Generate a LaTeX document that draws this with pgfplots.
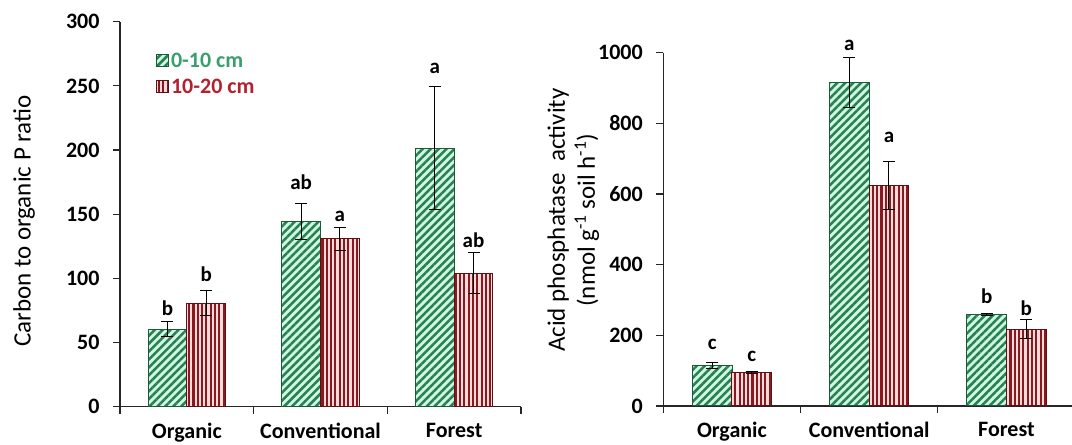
\documentclass[border=0pt]{standalone}
\usepackage{fontspec}
\setmainfont{Carlito}
\usepackage{pgfplots}
\pgfplotsset{compat=1.18}
\usetikzlibrary{patterns.meta}

% bar colours
\definecolor{mintfill}{HTML}{CDF7E1}
\definecolor{mintline}{HTML}{2A7F52}
\definecolor{mintedge}{HTML}{1E5A3A}
\definecolor{pinkfill}{HTML}{FCDADA}
\definecolor{pinkline}{HTML}{861A20}
\definecolor{pinkedge}{HTML}{5E1014}
\definecolor{legendgreen}{HTML}{3A9F6C}
\definecolor{legendred}{HTML}{B3202F}

% data: x position, value, standard error
\pgfplotstableread{
x     y      e
0.855 60.5   6
1.855 144.3  14.3
2.855 201.5  48
}\ratioTop
\pgfplotstableread{
x     y      e
1.145 80.7   10
2.145 130.8  9
3.145 104    16
}\ratioSub
\pgfplotstableread{
x     y      e
0.856 114    9
1.856 916    70
2.856 258    3
}\acidTop
\pgfplotstableread{
x     y      e
1.144 94     3
2.144 624    68
3.144 217    27
}\acidSub

\tikzset{letter/.style={font=\bfseries\fontsize{21bp}{24bp}\selectfont}}

\pgfplotsset{
  topbar/.style={ybar, bar shift=0pt, bar width=0.289, draw=mintedge, line width=1bp,
    fill=mintfill,
    postaction={pattern={Lines[angle=45,distance=5.6bp,line width=2.5bp]},
                pattern color=mintline}},
  subbar/.style={ybar, bar shift=0pt, bar width=0.289, draw=pinkedge, line width=1bp,
    fill=pinkfill,
    postaction={pattern={Lines[angle=90,distance=4.3bp,line width=2.1bp]},
                pattern color=pinkline}},
  errs/.style={error bars/.cd, y dir=both, y explicit,
    error mark=-,
    error bar style={black, line width=1bp},
    error mark options={rotate=90, black, line width=1bp, mark size=6bp}},
  soilaxis/.style={
    scale only axis,
    clip=false,
    axis x line*=bottom, axis y line*=left,
    axis line style={line width=1.1bp, black!85},
    tick style={line width=1.1bp, black!85},
    tick align=outside,
    major tick length=7bp,
    xmin=0.5, ymin=0,
    xticklabels={},
    extra x ticks={1,2,3},
    extra x tick labels={Organic,Conventional,Forest},
    extra x tick style={major tick length=0pt},
    /pgf/number format/assume math mode=true,
    /pgf/number format/set thousands separator={},
    scaled y ticks=false,
    ticklabel style={font=\bfseries\fontsize{22bp}{25bp}\selectfont},
    xticklabel style={yshift=-13bp},
    yticklabel style={xshift=-10bp},
    ylabel style={font=\fontsize{25bp}{30bp}\selectfont, anchor=center},
  },
}

\begin{document}
\begin{tikzpicture}
\path[use as bounding box] (0,0) rectangle (1072bp,445bp);

% C : Po ratio
\begin{axis}[soilaxis,
  at={(120bp,38.3bp)}, anchor=south west,
  width=401bp, height=385bp,
  xmax=3.5, ymax=300,
  xtick={0.5,1.5,2.5,3.5},
  ytick={0,50,...,300},
  ylabel={Carbon to organic P ratio},
  ylabel style={at={(axis description cs:-0.239,0.482)}},
  legend style={draw=none, fill=none, at={(axis description cs:0.09,0.925)},
    anchor=north west, row sep=6bp, inner sep=0pt,
    font=\bfseries\fontsize{22bp}{25bp}\selectfont},
  legend cell align=left,
  legend image code/.code={
    \draw[#1, line width=0.8bp] (0bp,-6bp) rectangle (12bp,6bp);},
]
\addplot[topbar, errs] table[x=x, y=y, y error=e] {\ratioTop};
\addlegendentry{\textcolor{legendgreen}{0-10 cm}}
\addplot[subbar, errs] table[x=x, y=y, y error=e] {\ratioSub};
\addlegendentry{\textcolor{legendred}{10-20 cm}}

\node[letter] at (axis cs:0.855,77) {b};
\node[letter] at (axis cs:1.145,103) {b};
\node[letter] at (axis cs:1.855,175) {ab};
\node[letter] at (axis cs:2.145,148) {a};
\node[letter] at (axis cs:2.855,264) {a};
\node[letter] at (axis cs:3.145,130) {ab};
\end{axis}

% acid phosphatase activity
\begin{axis}[soilaxis,
  at={(663.3bp,39bp)}, anchor=south west,
  width=409bp, height=353.3bp,
  xmax=3.48, ymax=1000,
  xtick={0.5,1.5,2.5},
  ytick={0,200,...,1000},
  ylabel={Acid phosphatase\ \ activity\\(nmol g\textsuperscript{-1} soil h\textsuperscript{-1})},
  ylabel style={align=center, at={(axis description cs:-0.22,0.526)}},
]
\addplot[topbar, errs] table[x=x, y=y, y error=e] {\acidTop};
\addplot[subbar, errs] table[x=x, y=y, y error=e] {\acidSub};

\node[letter] at (axis cs:0.856,175) {c};
\node[letter] at (axis cs:1.144,141) {c};
\node[letter] at (axis cs:1.856,1022) {a};
\node[letter] at (axis cs:2.144,760) {a};
\node[letter] at (axis cs:2.856,311) {b};
\node[letter] at (axis cs:3.144,278) {b};
\end{axis}
\end{tikzpicture}
\end{document}
